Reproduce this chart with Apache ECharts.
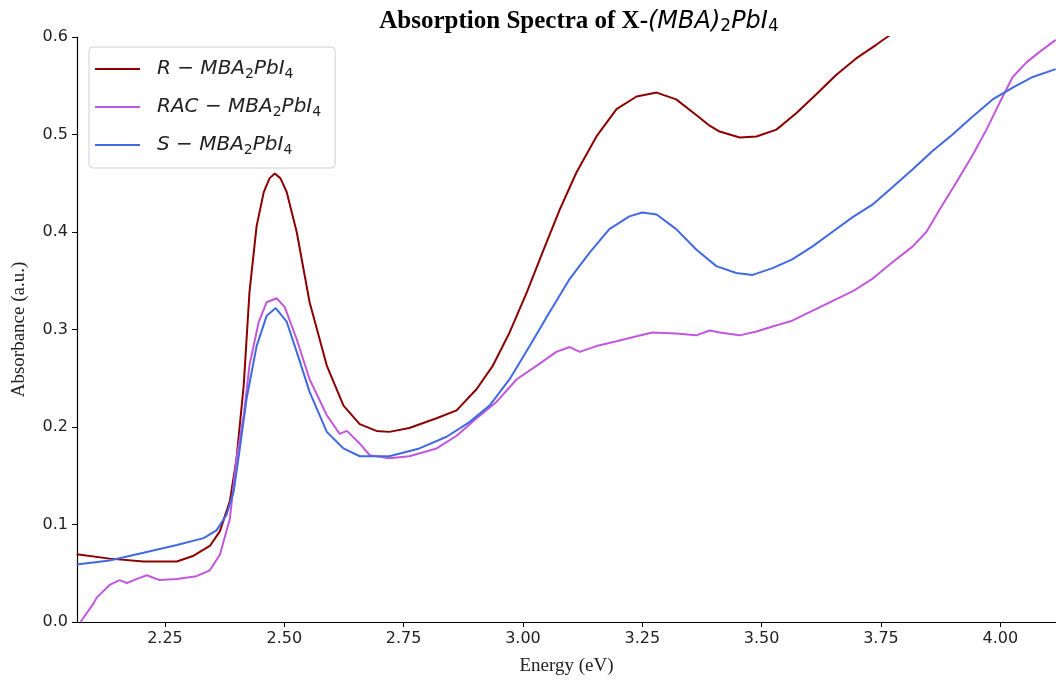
<!DOCTYPE html>
<html>
<head>
<meta charset="UTF-8">
<title>Absorption Spectra</title>
<style>
  * { margin: 0; padding: 0; }
  html, body { width: 1056px; height: 681px; background: #fff; overflow: hidden; }
  #main { width: 1056px; height: 681px; }
</style>
<script src="https://cdn.jsdelivr.net/npm/echarts@6/dist/echarts.min.js"></script>
</head>
<body>
<div id="main"></div>
<script>
// data
var rEnergy = [2.065, 2.134, 2.205, 2.275, 2.310, 2.344, 2.365, 2.386, 2.400, 2.415, 2.427, 2.442, 2.457, 2.469, 2.480, 2.492, 2.505, 2.526, 2.553, 2.589, 2.624, 2.658, 2.693, 2.720, 2.762, 2.819, 2.861, 2.903, 2.937, 2.972, 3.008, 3.041, 3.077, 3.112, 3.154, 3.196, 3.238, 3.280, 3.321, 3.363, 3.391, 3.412, 3.454, 3.489, 3.531, 3.573, 3.614, 3.656, 3.698, 3.740, 3.763, 3.775];
var rAbs = [0.0695, 0.065, 0.062, 0.062, 0.068, 0.078, 0.093, 0.124, 0.168, 0.243, 0.338, 0.406, 0.441, 0.455, 0.460, 0.455, 0.441, 0.400, 0.328, 0.263, 0.222, 0.203, 0.196, 0.195, 0.199, 0.209, 0.217, 0.239, 0.263, 0.297, 0.338, 0.379, 0.423, 0.461, 0.498, 0.526, 0.539, 0.543, 0.536, 0.520, 0.509, 0.503, 0.497, 0.498, 0.505, 0.522, 0.541, 0.561, 0.578, 0.592, 0.600, 0.604];

var racEnergy = [2.073, 2.099, 2.107, 2.134, 2.155, 2.170, 2.190, 2.212, 2.239, 2.275, 2.316, 2.344, 2.365, 2.386, 2.400, 2.415, 2.427, 2.446, 2.463, 2.484, 2.501, 2.526, 2.553, 2.589, 2.616, 2.631, 2.658, 2.679, 2.720, 2.762, 2.819, 2.861, 2.903, 2.945, 2.987, 3.029, 3.070, 3.098, 3.119, 3.154, 3.196, 3.238, 3.271, 3.321, 3.363, 3.391, 3.412, 3.454, 3.489, 3.523, 3.564, 3.606, 3.648, 3.690, 3.732, 3.774, 3.816, 3.845, 3.873, 3.908, 3.941, 3.971, 3.999, 4.026, 4.055, 4.083, 4.116];
var racAbs = [0.000, 0.018, 0.025, 0.038, 0.043, 0.040, 0.044, 0.048, 0.043, 0.044, 0.047, 0.053, 0.069, 0.106, 0.168, 0.212, 0.263, 0.307, 0.328, 0.332, 0.323, 0.290, 0.249, 0.212, 0.193, 0.196, 0.183, 0.171, 0.168, 0.170, 0.178, 0.191, 0.209, 0.226, 0.249, 0.263, 0.277, 0.282, 0.277, 0.283, 0.288, 0.293, 0.297, 0.296, 0.294, 0.299, 0.297, 0.294, 0.298, 0.303, 0.309, 0.319, 0.329, 0.339, 0.352, 0.369, 0.385, 0.400, 0.423, 0.451, 0.478, 0.505, 0.533, 0.559, 0.574, 0.585, 0.597];

var sEnergy = [2.065, 2.134, 2.205, 2.275, 2.331, 2.358, 2.379, 2.394, 2.406, 2.421, 2.442, 2.463, 2.482, 2.505, 2.526, 2.553, 2.589, 2.624, 2.658, 2.693, 2.720, 2.783, 2.840, 2.888, 2.930, 2.972, 3.014, 3.056, 3.098, 3.140, 3.181, 3.223, 3.250, 3.280, 3.321, 3.363, 3.405, 3.447, 3.481, 3.523, 3.564, 3.606, 3.648, 3.690, 3.732, 3.774, 3.816, 3.858, 3.900, 3.941, 3.984, 4.026, 4.068, 4.116];
var sAbs = [0.059, 0.063, 0.071, 0.079, 0.086, 0.094, 0.110, 0.134, 0.175, 0.229, 0.283, 0.314, 0.322, 0.308, 0.277, 0.236, 0.195, 0.178, 0.170, 0.170, 0.170, 0.178, 0.190, 0.205, 0.222, 0.249, 0.283, 0.318, 0.352, 0.379, 0.403, 0.416, 0.420, 0.418, 0.403, 0.382, 0.365, 0.358, 0.356, 0.363, 0.372, 0.385, 0.400, 0.415, 0.428, 0.446, 0.464, 0.483, 0.500, 0.518, 0.536, 0.548, 0.559, 0.567];

var xTicks = [2.25, 2.50, 2.75, 3.00, 3.25, 3.50, 3.75, 4.00];

function pairs(xs, ys) {
  var out = [];
  for (var i = 0; i < xs.length; i++) out.push([xs[i], ys[i]]);
  return out;
}

var legendText = {
  'R': '{i|R}{o| − }{i|MBA}{s|2}{i|PbI}{s|4}',
  'RAC': '{i|RAC}{o| − }{i|MBA}{s|2}{i|PbI}{s|4}',
  'S': '{i|S}{o| − }{i|MBA}{s|2}{i|PbI}{s|4}'
};

var myChart = echarts.init(document.getElementById('main'));
var option = {
  animation: false,
  backgroundColor: '#fff',
  title: {
    text: '{b|Absorption Spectra of X-}{m|(MBA)}{ms|2}{m|PbI}{ms|4}',
    left: 574,
    textAlign: 'center',
    top: 3,
    textStyle: {
      rich: {
        b: { fontFamily: 'Liberation Serif', fontWeight: 'bold', fontSize: 25, color: '#000' },
        m: { fontFamily: 'DejaVu Sans', fontStyle: 'italic', fontWeight: 'normal', fontSize: 24, color: '#000' },
        ms: { fontFamily: 'DejaVu Sans', fontWeight: 'normal', fontSize: 17, color: '#000', padding: [10, 0, 0, 0] }
      }
    }
  },
  legend: {
    orient: 'vertical',
    left: 89,
    top: 47,
    padding: [12, 14, 11, 6],
    itemGap: 16,
    itemWidth: 45,
    itemHeight: 2,
    icon: 'rect',
    borderColor: '#d0d0d0',
    borderWidth: 1,
    borderRadius: 4,
    backgroundColor: 'rgba(255,255,255,0.8)',
    data: ['R', 'RAC', 'S'],
    formatter: function (name) { return legendText[name]; },
    textStyle: {
      padding: [0, 0, 0, 12],
      rich: {
        i: { fontFamily: 'DejaVu Sans', fontStyle: 'italic', fontSize: 20, color: '#222' },
        o: { fontFamily: 'DejaVu Sans', fontSize: 20, color: '#222' },
        s: { fontFamily: 'DejaVu Sans', fontSize: 14, color: '#222', padding: [10, 0, 0, 0] }
      }
    }
  },
  grid: { left: 77, right: 0, top: 37, bottom: 57 },
  xAxis: [{
    type: 'value',
    min: 2.0657,
    max: 4.1167,
    name: 'Energy (eV)',
    nameLocation: 'middle',
    nameGap: 35,
    nameTextStyle: { fontFamily: 'Liberation Serif', fontSize: 19, color: '#222' },
    axisLine: { onZero: false, lineStyle: { color: '#000', width: 1.2 } },
    axisTick: { show: true, length: 5, customValues: xTicks, lineStyle: { color: '#000' } },
    axisLabel: {
      customValues: xTicks,
      formatter: function (v) { return v.toFixed(2); },
      fontFamily: 'DejaVu Sans', fontSize: 16, color: '#222', margin: 9
    },
    splitLine: { show: false }
  }, {
    type: 'value',
    position: 'top',
    min: 2.0657,
    max: 4.1167,
    axisLine: { show: true, lineStyle: { color: '#000', width: 1.2 } },
    axisTick: { show: false },
    axisLabel: { show: false },
    splitLine: { show: false }
  }],
  yAxis: {
    type: 'value',
    min: 0,
    max: 0.6,
    interval: 0.1,
    name: 'Absorbance (a.u.)',
    nameLocation: 'middle',
    nameGap: 48,
    nameTextStyle: { fontFamily: 'Liberation Serif', fontSize: 19, color: '#222' },
    axisLine: { show: true, lineStyle: { color: '#000', width: 1.2 } },
    axisTick: { show: true, length: 5, lineStyle: { color: '#000' } },
    axisLabel: {
      formatter: function (v) { return v.toFixed(1); },
      fontFamily: 'DejaVu Sans', fontSize: 16, color: '#222', margin: 9
    },
    splitLine: { show: false }
  },
  series: [{
    name: 'R',
    type: 'line',
    data: pairs(rEnergy, rAbs),
    symbol: 'none',
    clip: true,
    color: '#8b0000',
    lineStyle: { width: 2, color: '#8b0000' }
  }, {
    name: 'RAC',
    type: 'line',
    data: pairs(racEnergy, racAbs),
    symbol: 'none',
    clip: true,
    color: '#c158dc',
    lineStyle: { width: 2, color: '#c158dc' }
  }, {
    name: 'S',
    type: 'line',
    data: pairs(sEnergy, sAbs),
    symbol: 'none',
    clip: true,
    color: '#4169e1',
    lineStyle: { width: 2, color: '#4169e1' }
  }]
};
myChart.setOption(option);
</script>
</body>
</html>
